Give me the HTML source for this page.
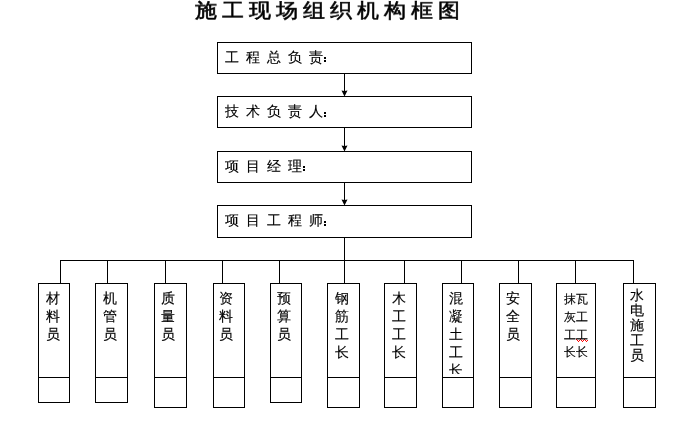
<!DOCTYPE html>
<html><head><meta charset="utf-8">
<style>
html,body{margin:0;padding:0;background:#fff;width:673px;height:423px;overflow:hidden;position:relative}
body{font-family:"Liberation Sans",sans-serif;color:#000}
svg{position:absolute;left:0;top:0}
.title{position:absolute;white-space:nowrap;will-change:transform;left:195px;top:0px;font-size:22px;font-weight:normal;-webkit-text-stroke:0.6px #000;letter-spacing:5px;line-height:24px;transform:scaleY(0.9);transform-origin:0 0}
.row{position:absolute;will-change:transform;left:225px;font-size:14px;-webkit-text-stroke:0.15px #000;line-height:18px;height:18px;white-space:nowrap}
.row span{display:inline-block;width:21px;text-align:left}
.col{position:absolute;will-change:transform;font-size:14px;-webkit-text-stroke:0.15px #000;line-height:18px;text-align:left;overflow:hidden;white-space:nowrap}
.col span{display:block}
</style></head><body>

<svg width="673" height="423" viewBox="0 0 673 423"><g fill="none" stroke="#000" stroke-width="1">
<rect x="217.5" y="42.5" width="254" height="31"/>
<rect x="217.5" y="96.5" width="254" height="31"/>
<rect x="217.5" y="151.5" width="254" height="31"/>
<rect x="217.5" y="205.5" width="254" height="32"/>
<line x1="344.5" y1="73.5" x2="344.5" y2="91"/>
<line x1="344.5" y1="127.5" x2="344.5" y2="146"/>
<line x1="344.5" y1="182.5" x2="344.5" y2="200"/>
<line x1="344.5" y1="237.5" x2="344.5" y2="283.5"/>
<line x1="60" y1="260.5" x2="634" y2="260.5"/>
<rect x="38.5" y="283.5" width="31" height="119"/>
<line x1="38" y1="377.5" x2="70" y2="377.5"/>
<line x1="60.5" y1="260.5" x2="60.5" y2="283.5"/>
<rect x="95.5" y="283.5" width="32" height="119"/>
<line x1="95" y1="377.5" x2="128" y2="377.5"/>
<line x1="107.5" y1="260.5" x2="107.5" y2="283.5"/>
<rect x="154.5" y="283.5" width="32" height="124"/>
<line x1="154" y1="377.5" x2="187" y2="377.5"/>
<line x1="165.5" y1="260.5" x2="165.5" y2="283.5"/>
<rect x="213.5" y="283.5" width="31" height="124"/>
<line x1="213" y1="377.5" x2="245" y2="377.5"/>
<line x1="222.5" y1="260.5" x2="222.5" y2="283.5"/>
<rect x="270.5" y="283.5" width="31" height="119"/>
<line x1="270" y1="377.5" x2="302" y2="377.5"/>
<line x1="279.5" y1="260.5" x2="279.5" y2="283.5"/>
<rect x="327.5" y="283.5" width="32" height="124"/>
<line x1="327" y1="377.5" x2="360" y2="377.5"/>
<rect x="384.5" y="283.5" width="32" height="124"/>
<line x1="384" y1="377.5" x2="417" y2="377.5"/>
<line x1="404.5" y1="260.5" x2="404.5" y2="283.5"/>
<rect x="442.5" y="283.5" width="31" height="124"/>
<line x1="442" y1="377.5" x2="474" y2="377.5"/>
<line x1="461.5" y1="260.5" x2="461.5" y2="283.5"/>
<rect x="499.5" y="283.5" width="32" height="124"/>
<line x1="499" y1="377.5" x2="532" y2="377.5"/>
<line x1="518.5" y1="260.5" x2="518.5" y2="283.5"/>
<rect x="556.5" y="283.5" width="39" height="124"/>
<line x1="556" y1="377.5" x2="596" y2="377.5"/>
<line x1="575.5" y1="260.5" x2="575.5" y2="283.5"/>
<rect x="623.5" y="283.5" width="32" height="124"/>
<line x1="623" y1="377.5" x2="656" y2="377.5"/>
<line x1="633.5" y1="260.5" x2="633.5" y2="283.5"/>
</g><g fill="#000">
<polygon points="341.5,90.4 344.5,90.9 347.5,90.4 344.5,96.5"/>
<polygon points="341.5,145.4 344.5,145.9 347.5,145.4 344.5,151.5"/>
<polygon points="341.5,199.4 344.5,199.9 347.5,199.4 344.5,205.5"/>
<rect x="324" y="57" width="2" height="2"/><rect x="324" y="60" width="2" height="2"/>
<rect x="324" y="112" width="2" height="2"/><rect x="324" y="115" width="2" height="2"/>
<rect x="303" y="166" width="2" height="2"/><rect x="303" y="169" width="2" height="2"/>
<rect x="324" y="221" width="2" height="2"/><rect x="324" y="224" width="2" height="2"/>
</g>
<g fill="#f00"><rect x="576" y="339" width="1" height="1"/><rect x="577" y="340" width="1" height="1"/><rect x="578" y="341" width="1" height="1"/><rect x="579" y="340" width="1" height="1"/><rect x="580" y="339" width="1" height="1"/><rect x="581" y="340" width="1" height="1"/><rect x="582" y="341" width="1" height="1"/><rect x="583" y="340" width="1" height="1"/><rect x="584" y="339" width="1" height="1"/><rect x="585" y="340" width="1" height="1"/><rect x="586" y="341" width="1" height="1"/><rect x="587" y="340" width="1" height="1"/></g>
</svg>
<div class="title">施工现场组织机构框图</div>
<div class="row" style="top:48px"><span>工</span><span>程</span><span>总</span><span>负</span><span>责</span></div>
<div class="row" style="top:102px"><span>技</span><span>术</span><span>负</span><span>责</span><span>人</span></div>
<div class="row" style="top:157px"><span>项</span><span>目</span><span>经</span><span>理</span></div>
<div class="row" style="top:211px"><span>项</span><span>目</span><span>工</span><span>程</span><span>师</span></div>
<div class="col" style="left:46px;top:289px;width:23px;height:85px"><span>材</span><span>料</span><span>员</span></div>
<div class="col" style="left:103px;top:289px;width:24px;height:85px"><span>机</span><span>管</span><span>员</span></div>
<div class="col" style="left:161px;top:289px;width:25px;height:85px"><span>质</span><span>量</span><span>员</span></div>
<div class="col" style="left:219px;top:289px;width:25px;height:85px"><span>资</span><span>料</span><span>员</span></div>
<div class="col" style="left:277px;top:289px;width:24px;height:85px"><span>预</span><span>算</span><span>员</span></div>
<div class="col" style="left:335px;top:289px;width:24px;height:85px"><span>钢</span><span>筋</span><span>工</span><span>长</span></div>
<div class="col" style="left:392px;top:289px;width:24px;height:85px"><span>木</span><span>工</span><span>工</span><span>长</span></div>
<div class="col" style="left:449px;top:289px;width:24px;height:85px"><span>混</span><span>凝</span><span>土</span><span>工</span><span>长</span></div>
<div class="col" style="left:506px;top:289px;width:25px;height:85px"><span>安</span><span>全</span><span>员</span></div>
<div class="col" style="left:564px;top:291px;width:31px;height:84px;font-size:11.5px;line-height:17.7px"><span>抹瓦</span><span>灰工</span><span style="position:relative;top:1px">工工</span><span>长长</span></div>
<div class="col" style="left:630px;top:288px;width:25px;height:87px;line-height:15px"><span>水</span><span>电</span><span>施</span><span>工</span><span>员</span></div>
</body></html>
